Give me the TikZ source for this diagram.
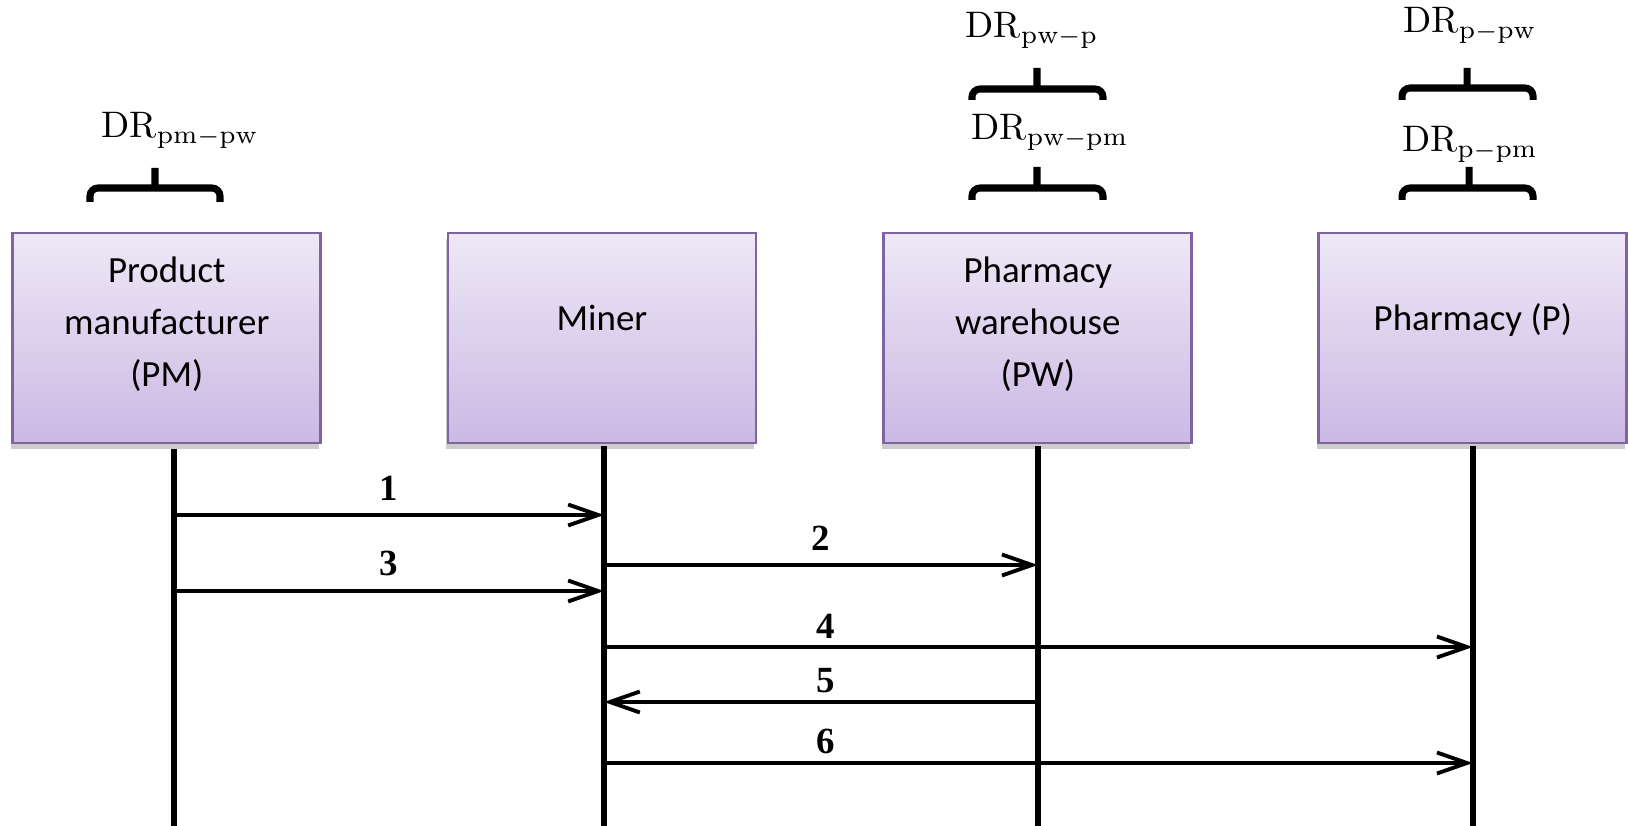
\documentclass[tikz,border=0pt]{standalone}
\usepackage{fontspec}
\newfontfamily\boxfont{Carlito}
\newfontfamily\numfont{Liberation Serif}
\usetikzlibrary{arrows.meta,positioning,shadows}
\definecolor{boxtop}{RGB}{238,232,246}
\definecolor{boxbot}{RGB}{203,185,228}
\definecolor{boxline}{RGB}{128,100,162}
\tikzset{
	>={Straight Barb[length=3mm,width=2.1mm]},
}

\begin{document}
\begin{tikzpicture}[
actor/.style = {rectangle, draw=boxline, line width=0.8pt, top color=boxtop, bottom color=boxbot, minimum width=3.08cm, minimum height=2.1cm, inner sep=0, drop shadow={shadow xshift=-0.2mm, shadow yshift=-0.6mm, opacity=0.4}},
actortext/.style = {align=center, inner sep=0, font=\boxfont\fontsize{10.5}{14.8}\selectfont},
life/.style = {line width=1.7pt},
msg/.style = {->, line width=1.1pt},
num/.style = {font=\numfont\bfseries\fontsize{10.5}{12}\selectfont, inner sep=0},
drlabel/.style = {anchor=base, inner sep=0, font=\fontsize{10.5}{12}\selectfont},
brace/.style = {line width=2pt, rounded corners=0.8mm}]
\useasboundingbox (0,0) rectangle (16.28,-8.26);
% participants
\node[actor] (pm) at (1.668,-3.38) {};
\node[actortext] (pmtext) at ([yshift=1.4mm]pm.center) {Product\\manufacturer\\(PM)};
\node[actor] (miner) at (6.02,-3.38) {};
\node[actortext] (minertext) at ([yshift=2mm]miner.center) {Miner};
\node[actor] (pw) at (10.378,-3.38) {};
\node[actortext] (pwtext) at ([yshift=1.4mm]pw.center) {Pharmacy\\warehouse\\(PW)};
\node[actor] (ph) at (14.728,-3.38) {};
\node[actortext] (phtext) at ([yshift=1.8mm]ph.center) {Pharmacy (P)};
% data requests
\node[drlabel] (drpm) at (1.80,-1.38) {$\mathrm{DR}_{\mathrm{pm}-\mathrm{pw}}$};
\draw[brace] (0.90,-2.02) |- (2.20,-1.88) -- (2.20,-2.02) (1.55,-1.88) -- (1.55,-1.68);
\node[drlabel] (drpwp) at (10.32,-0.38) {$\mathrm{DR}_{\mathrm{pw}-\mathrm{p}}$};
\draw[brace] (9.72,-1.00) |- (11.03,-0.89) -- (11.03,-1.00) (10.37,-0.89) -- (10.37,-0.68);
\node[drlabel] (drpwpm) at (10.50,-1.40) {$\mathrm{DR}_{\mathrm{pw}-\mathrm{pm}}$};
\draw[brace] (9.72,-2.00) |- (11.03,-1.88) -- (11.03,-2.00) (10.37,-1.88) -- (10.37,-1.67);
\node[drlabel] (drppw) at (14.70,-0.33) {$\mathrm{DR}_{\mathrm{p}-\mathrm{pw}}$};
\draw[brace] (14.02,-1.00) |- (15.33,-0.88) -- (15.33,-1.00) (14.67,-0.88) -- (14.67,-0.68);
\node[drlabel] (drppm) at (14.70,-1.52) {$\mathrm{DR}_{\mathrm{p}-\mathrm{pm}}$};
\draw[brace] (14.02,-2.00) |- (15.33,-1.88) -- (15.33,-2.00) (14.69,-1.88) -- (14.69,-1.67);
% lifelines
\coordinate (pmtop) at ([xshift=0.7mm,yshift=-0.5mm]pm.south);
\coordinate (minertop) at ([xshift=0.2mm,yshift=-0.2mm]miner.south);
\coordinate (pwtop) at ([yshift=-0.2mm]pw.south);
\coordinate (phtop) at ([yshift=-0.2mm]ph.south);
\coordinate (pmend) at (pmtop |- 0,-8.26);
\coordinate (minerend) at (minertop |- 0,-8.26);
\coordinate (pwend) at (pwtop |- 0,-8.26);
\coordinate (phend) at (phtop |- 0,-8.26);
\draw[life] (pmtop) -- (pmend);
\draw[life] (minertop) -- (minerend);
\draw[life] (pwtop) -- (pwend);
\draw[life] (phtop) -- (phend);
% messages
\draw[msg] (pmtop |- 0,-5.15) -- (minertop |- 0,-5.15) node[num, midway, above=1.3mm] {1};
\draw[msg] (minertop |- 0,-5.65) -- (pwtop |- 0,-5.65) node[num, midway, above=1.3mm] {2};
\draw[msg] (pmtop |- 0,-5.91) -- (minertop |- 0,-5.91) node[num, midway, above=1.3mm] {3};
\draw[msg] (minertop |- 0,-6.47) -- (phtop |- 0,-6.47) node[num, pos=0.255, above=0.7mm] {4};
\draw[msg] (pwtop |- 0,-7.02) -- (minertop |- 0,-7.02) node[num, pos=0.49, above=0.7mm] {5};
\draw[msg] (minertop |- 0,-7.63) -- (phtop |- 0,-7.63) node[num, pos=0.255, above=0.7mm] {6};
\end{tikzpicture}
\end{document}
